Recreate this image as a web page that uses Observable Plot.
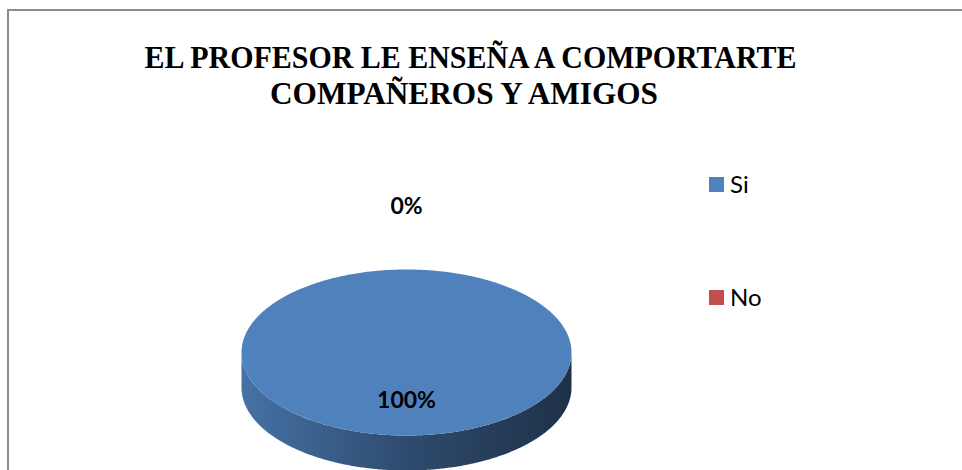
<!DOCTYPE html>
<html><head><meta charset="utf-8">
<script src="https://cdn.jsdelivr.net/npm/d3@7"></script>
<script src="https://cdn.jsdelivr.net/npm/@observablehq/plot@0.6"></script>
<style>
html,body{margin:0;padding:0;background:#fff;}
#chart{position:relative;width:962px;height:470px;overflow:hidden;background:#fff;}
#frame{position:absolute;left:7px;top:9px;width:1000px;height:500px;border-left:2px solid #8c8c8c;border-top:2px solid #8c8c8c;}
#chart svg{position:absolute;left:0;top:0;}
</style></head><body>
<div id="chart"><div id="frame"></div></div>
<script>
// ---- data ----
const titleLines = ["EL PROFESOR LE ENSEÑA A COMPORTARTE", "COMPAÑEROS Y AMIGOS"];
const categories = ["Si", "No"];
const values = [100, 0];
const percentLabels = ["100%", "0%"];
const colors = ["#4f81bd", "#c0504d"];

// ---- layout ----
const W = 962, H = 470;
const CX = 406, CY = 352, RX = 165, RY = 83, DEPTH = 35;

const data = categories.map((c, i) => ({category: c, value: values[i], label: percentLabels[i], color: colors[i], i}));
const arcs = d3.pie().sort(null).value(d => d.value)(data);

function arcPoints(a0, a1, dy, key) {
  const span = a1 - a0;
  const n = Math.max(2, Math.ceil(Math.abs(span) / 0.01));
  const pts = [];
  for (let k = 0; k <= n; k++) {
    const a = a0 + span * k / n;
    pts.push({x: Math.sin(a), y: -Math.cos(a) + dy, key});
  }
  return pts;
}

const depthU = DEPTH / RY;
const sideMarks = [], topMarks = [];
arcs.forEach(a => {
  const d = a.data;
  const span = a.endAngle - a.startAngle;
  if (span <= 0) return;
  const s = Math.max(a.startAngle, Math.PI / 2), e = Math.min(a.endAngle, 3 * Math.PI / 2);
  if (e > s) {
    const pts = [...arcPoints(s, e, 0, d.category), ...arcPoints(e, s, depthU, d.category)];
    sideMarks.push(Plot.line(pts, {x: "x", y: "y", fill: `url(#side-${d.i})`, stroke: "none", curve: "linear-closed"}));
  }
  let top;
  if (span >= 2 * Math.PI - 1e-9) top = arcPoints(a.startAngle, a.endAngle, 0, d.category);
  else top = [{x: 0, y: 0, key: d.category}, ...arcPoints(a.startAngle, a.endAngle, 0, d.category)];
  topMarks.push(Plot.line(top, {x: "x", y: "y", fill: d.color, stroke: "none", curve: "linear-closed"}));
});

const labels = arcs.map(a => {
  const mid = (a.startAngle + a.endAngle) / 2;
  const r = a.data.value > 0 ? 0.58 : 1.76;
  return {x: Math.sin(mid) * r, y: -Math.cos(mid) * r, text: a.data.label};
});

const plot = Plot.plot({
  width: W, height: H, margin: 0,
  x: {domain: [-1, 1], range: [CX - RX, CX + RX], axis: null},
  y: {domain: [-1, 1], range: [CY - RY, CY + RY], axis: null},
  style: {background: "transparent", overflow: "visible"},
  marks: [
    ...sideMarks,
    ...topMarks,
    Plot.text(labels, {x: "x", y: "y", text: "text", fontSize: 23, fontWeight: "bold", fontFamily: "Lato, sans-serif", fill: "#000"})
  ]
});

const defs = d3.select(plot).insert("defs", ":first-child");
data.forEach(d => {
  const g = defs.append("linearGradient").attr("id", `side-${d.i}`)
    .attr("x1", "0").attr("x2", "1").attr("y1", "0").attr("y2", "0");
  const mix = d3.interpolateRgb(d.color, "#000");
  [[0, 0.12], [0.5, 0.42], [1, 0.62]].forEach(([o, t]) => g.append("stop").attr("offset", o).attr("stop-color", mix(t)));
});

document.getElementById("chart").appendChild(plot);

// title + legend overlay
const ov = d3.select("#chart").append("svg").attr("width", W).attr("height", H);
const tl = [{x: 470.5, y: 68, len: 652}, {x: 464, y: 104, len: 388}];
titleLines.forEach((t, i) => {
  ov.append("text").attr("x", tl[i].x).attr("y", tl[i].y)
    .attr("text-anchor", "middle").attr("font-family", "'Liberation Serif', 'Times New Roman', serif")
    .attr("font-weight", "bold").attr("font-size", 31)
    .attr("textLength", tl[i].len).attr("lengthAdjust", "spacingAndGlyphs")
    .text(t);
});
const legY = [177, 290];
data.forEach((d, i) => {
  ov.append("rect").attr("x", 709).attr("y", legY[i]).attr("width", 15).attr("height", 15).attr("fill", d.color);
  ov.append("text").attr("x", 730).attr("y", legY[i] + 16).attr("font-family", "Lato, sans-serif")
    .attr("font-size", 24).attr("fill", "#000").text(d.category);
});
</script>
</body></html>
